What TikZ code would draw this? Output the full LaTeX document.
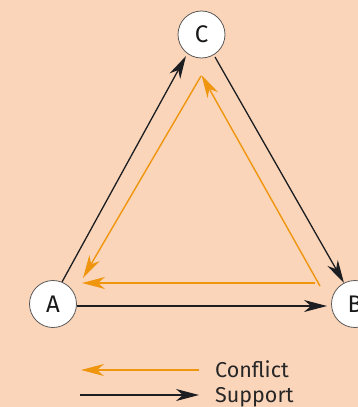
\documentclass[tikz,border=0pt]{standalone}
\usepackage{fontspec}
\setmainfont{Fira Sans}
\usetikzlibrary{arrows.meta}
\definecolor{bgpeach}{HTML}{FBD5BA}
\definecolor{conforange}{HTML}{EF950E}
\definecolor{supblack}{HTML}{1C1E22}
\begin{document}
\begin{tikzpicture}[x=1pt,y=-1pt,
  actor/.style={circle,draw=black!65,line width=0.8pt,fill=white,minimum size=47pt,inner sep=0pt,font=\fontsize{24}{26}\selectfont,text=black!90},
  support/.style={draw=supblack,line width=1.3pt,-{Stealth[length=23pt,width=12pt,inset=7pt]}},
  conflict/.style={draw=conforange,line width=1.4pt,-{Stealth[length=23pt,width=12pt,inset=7pt]}},
  legtext/.style={anchor=base west,inner sep=0pt,font=\fontsize{21.5}{24}\selectfont,text=black!85}]
\useasboundingbox (0,0) rectangle (358,407);
\fill[bgpeach] (0,0) rectangle (358,407);
\clip (0,0) rectangle (358,407);
% conflict triangle
\coordinate (ot) at (201.5,75);
\coordinate (ol) at (83,278);
\coordinate (oh) at (82,283);
\coordinate (ohs) at (315,283);
\coordinate (obs) at (320,286);
\coordinate (otc) at (201,76);
\draw[conflict] (ohs) -- (oh);
\draw[conflict] (obs) -- (ot);
\draw[conflict] (otc) -- (ol);
% support arrows
\coordinate (as) at (62,282);
\coordinate (ce) at (186,56);
\coordinate (cs) at (215,57);
\coordinate (be) at (344,283);
\coordinate (abs) at (77,306);
\coordinate (abe) at (327,306);
\draw[support] (as) -- (ce);
\draw[support] (cs) -- (be);
\draw[support] (abs) -- (abe);
% actors
\node[actor] (C) at (201.5,34.5) {C};
\node[actor] (A) at (53,304) {A};
\node[actor] (B) at (355,304) {B};
% legend
\coordinate (l1s) at (199,370);
\coordinate (l1e) at (81,370);
\coordinate (l2s) at (80,395);
\coordinate (l2e) at (199,395);
\draw[conflict] (l1s) -- (l1e);
\draw[support] (l2s) -- (l2e);
\node[legtext] (lc) at (215,377) {Conflict};
\node[legtext] (ls) at (215,402) {Support};
\end{tikzpicture}
\end{document}
